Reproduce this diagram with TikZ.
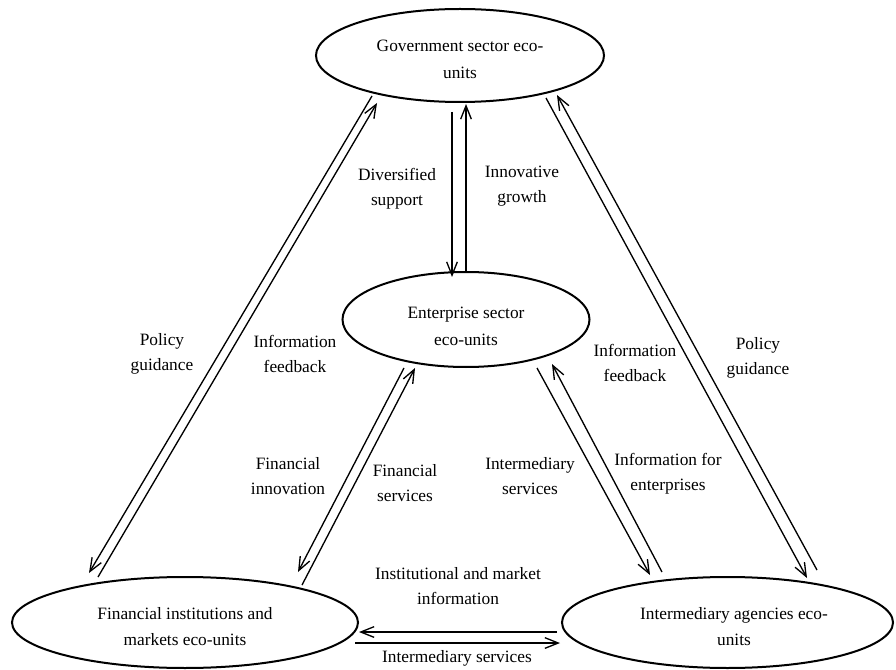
\documentclass[tikz,border=0pt]{standalone}
\usepackage{fontspec}
\setmainfont{Liberation Serif}
\usetikzlibrary{shapes.geometric, arrows.meta, calc}

\begin{document}
\begin{tikzpicture}[
    x=0.75pt, y=-0.75pt,
    unit/.style={ellipse, draw, line width=1.5pt, inner sep=0pt},
    unittext/.style={align=center, font=\fontsize{13}{20}\selectfont},
    flowtext/.style={align=center, font=\fontsize{13}{19}\selectfont},
    arrow/.style={-{Straight Barb[length=10pt,width=8pt]}, line width=1pt}
]
    \useasboundingbox (0,0) rectangle (896,670);

    % Eco-units
    \node[unit, minimum width=216pt, minimum height=69.75pt] (gov) at (460,55.5) {};
    \node[unittext] (govtext) at (460,59.5) {Government sector eco-\\units};
    \node[unit, minimum width=185.25pt, minimum height=71.25pt] (ent) at (466,319.5) {};
    \node[unittext] (enttext) at (466,326.5) {Enterprise sector\\eco-units};
    \node[unit, minimum width=259.5pt, minimum height=68.25pt] (fin) at (185,622.5) {};
    \node[unittext] (fintext) at (185,626.5) {Financial institutions and\\markets eco-units};
    \node[unit, minimum width=248.25pt, minimum height=68.25pt] (int) at (727.5,622.5) {};
    \node[unittext] (inttext) at (734,626.5) {Intermediary agencies eco-\\units};

    % Labels
    \node[flowtext] (divsup) at (397,189) {Diversified\\support};
    \node[flowtext] (innogr) at (522,186) {Innovative\\growth};
    \node[flowtext] (polL) at (162,354) {Policy\\guidance};
    \node[flowtext] (infoL) at (295,354) {Information\\feedback};
    \node[flowtext] (fininno) at (288,476) {Financial\\innovation};
    \node[flowtext] (finserv) at (405,483) {Financial\\services};
    \node[flowtext] (interserv) at (530,476) {Intermediary\\services};
    \node[flowtext] (infoR) at (635,363) {Information\\feedback};
    \node[flowtext] (polR) at (758,358) {Policy\\guidance};
    \node[flowtext] (infoent) at (668,474) {Information for\\enterprises};
    \node[flowtext] (instinfo) at (458,586) {Institutional and market\\information};
    \node[flowtext] (interservB) at (457,658) {Intermediary services};

    % Arrows
    \draw[arrow] ($(gov)+(-88,40.5)$) -- ($(fin)+(-96,-49.5)$);
    \draw[arrow] ($(fin)+(-87,-45.5)$) -- ($(gov)+(-83,47.5)$);
    \draw[arrow] ($(gov)+(-8,56.5)$) -- ($(ent)+(-14,-42.5)$);
    \draw[arrow] ($(ent)+(0,-47.5)$) -- ($(gov)+(6,48.5)$);
    \draw[arrow] ($(ent)+(-62,48.5)$) -- ($(fin)+(113,-50.5)$);
    \draw[arrow] ($(fin)+(117,-37.5)$) -- ($(ent)+(-51,48.5)$);
    \draw[arrow] ($(ent)+(71,48.5)$) -- ($(int)+(-77.5,-47.5)$);
    \draw[arrow] ($(int)+(-65.5,-50.5)$) -- ($(ent)+(86,44.5)$);
    \draw[arrow] ($(gov)+(86,42.5)$) -- ($(int)+(79.5,-44.5)$);
    \draw[arrow] ($(int)+(89.5,-52.5)$) -- ($(gov)+(97,39.5)$);
    \draw[arrow] ($(int)+(-170.5,9.5)$) -- ($(fin)+(174,9.5)$);
    \draw[arrow] ($(fin)+(170,20.5)$) -- ($(int)+(-167.5,20.5)$);
\end{tikzpicture}
\end{document}
